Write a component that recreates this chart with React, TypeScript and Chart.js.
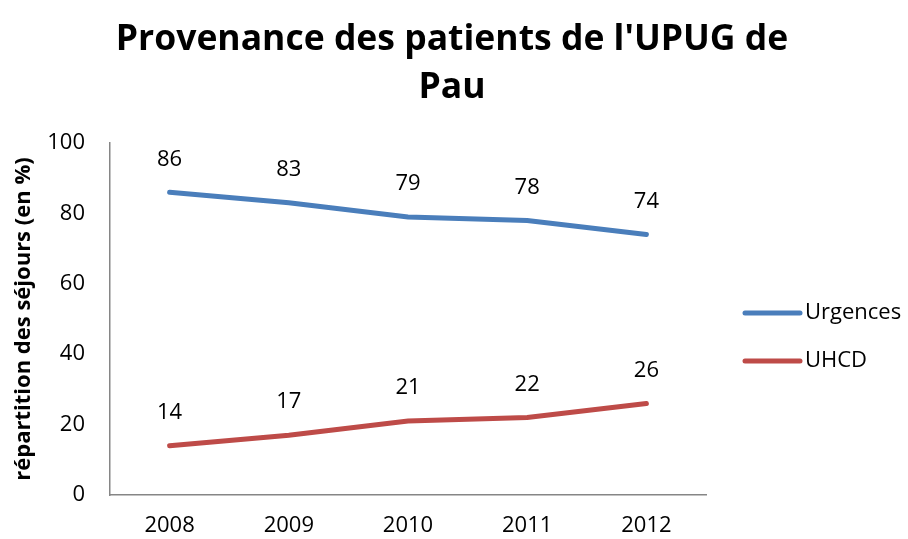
import React, { useEffect, useRef } from "react";
import { Chart, registerables } from "chart.js";

Chart.register(...registerables);

const categories = ["2008", "2009", "2010", "2011", "2012"];
const urgences = [86, 83, 79, 78, 74];
const uhcd = [14, 17, 21, 22, 26];
const seriesNames = ["Urgences", "UHCD"];
const seriesColors = ["#4a7ebb", "#be4b48"];
const titleLines = ["Provenance des patients de l'UPUG de", "Pau"];
const yAxisTitle = "répartition des séjours (en %)";

const FONT = "'Open Sans', 'Liberation Sans', sans-serif";

const titlePlugin = {
  id: "customTitle",
  afterDraw(chart: any) {
    const ctx = chart.ctx;
    ctx.save();
    ctx.font = `bold 35.5px ${FONT}`;
    ctx.fillStyle = "#000";
    ctx.textAlign = "center";
    ctx.textBaseline = "middle";
    const cx = 452;
    titleLines.forEach((line, i) => {
      ctx.fillText(line, cx, 40 + i * 48);
    });
    ctx.restore();
  },
};

const dataLabelPlugin = {
  id: "dataLabels",
  afterDatasetsDraw(chart: any) {
    const ctx = chart.ctx;
    ctx.save();
    ctx.font = `22px ${FONT}`;
    ctx.fillStyle = "#000";
    ctx.textAlign = "center";
    ctx.textBaseline = "middle";
    chart.data.datasets.forEach((ds: any, i: number) => {
      const meta = chart.getDatasetMeta(i);
      meta.data.forEach((pt: any, j: number) => {
        ctx.fillText(String(ds.data[j]), pt.x, pt.y - 33);
      });
    });
    ctx.restore();
  },
};

const legendPlugin = {
  id: "customLegend",
  afterDraw(chart: any) {
    const ctx = chart.ctx;
    const x0 = chart.chartArea.right + 39;
    const startY = 313;
    const gap = 48;
    ctx.save();
    chart.data.datasets.forEach((ds: any, i: number) => {
      const y = startY + i * gap;
      ctx.strokeStyle = ds.borderColor;
      ctx.lineWidth = 5;
      ctx.lineCap = "round";
      ctx.beginPath();
      ctx.moveTo(x0, y);
      ctx.lineTo(x0 + 55, y);
      ctx.stroke();
      ctx.font = `22px ${FONT}`;
      ctx.fillStyle = "#000";
      ctx.textAlign = "left";
      ctx.textBaseline = "middle";
      ctx.fillText(ds.label, x0 + 60, y);
    });
    ctx.restore();
  },
};

export default function App() {
  const ref = useRef<HTMLCanvasElement | null>(null);
  useEffect(() => {
    if (!ref.current) return;
    const chart = new Chart(ref.current, {
      type: "line",
      data: {
        labels: categories,
        datasets: [
          {
            label: seriesNames[0],
            data: urgences,
            borderColor: seriesColors[0],
            backgroundColor: seriesColors[0],
            borderWidth: 5,
            pointRadius: 0,
            tension: 0,
            borderCapStyle: "round",
          },
          {
            label: seriesNames[1],
            data: uhcd,
            borderColor: seriesColors[1],
            backgroundColor: seriesColors[1],
            borderWidth: 5,
            pointRadius: 0,
            tension: 0,
            borderCapStyle: "round",
          },
        ],
      },
      options: {
        animation: false,
        responsive: true,
        maintainAspectRatio: false,
        layout: { padding: { left: 0, right: 202, top: 143, bottom: 0 } },
        plugins: {
          legend: { display: false },
          tooltip: { enabled: false },
          title: { display: false },
        },
        scales: {
          x: {
            offset: true,
            grid: { display: false, drawTicks: false },
            border: { display: true, color: "#868686", width: 1.5 },
            ticks: {
              color: "#000",
              font: { family: FONT, size: 22 },
              padding: 18,
              maxRotation: 0,
            },
            afterFit(scale: any) {
              scale.height = 44;
            },
          },
          y: {
            min: 0,
            max: 100,
            grid: { display: false, drawTicks: false },
            border: { display: true, color: "#868686", width: 1.5 },
            ticks: {
              stepSize: 20,
              color: "#000",
              font: { family: FONT, size: 22 },
              padding: 25,
            },
            title: {
              display: true,
              text: yAxisTitle,
              color: "#000",
              font: { family: FONT, size: 22, weight: "bold" },
              padding: { top: 11, bottom: 0 },
            },
            afterFit(scale: any) {
              scale.width = 110;
            },
          },
        },
      },
      plugins: [titlePlugin, dataLabelPlugin, legendPlugin],
    } as any);
    return () => chart.destroy();
  }, []);
  return (
    <div style={{ position: "absolute", left: 0, top: 0, width: 908, height: 539 }}>
      <canvas ref={ref} />
    </div>
  );
}
